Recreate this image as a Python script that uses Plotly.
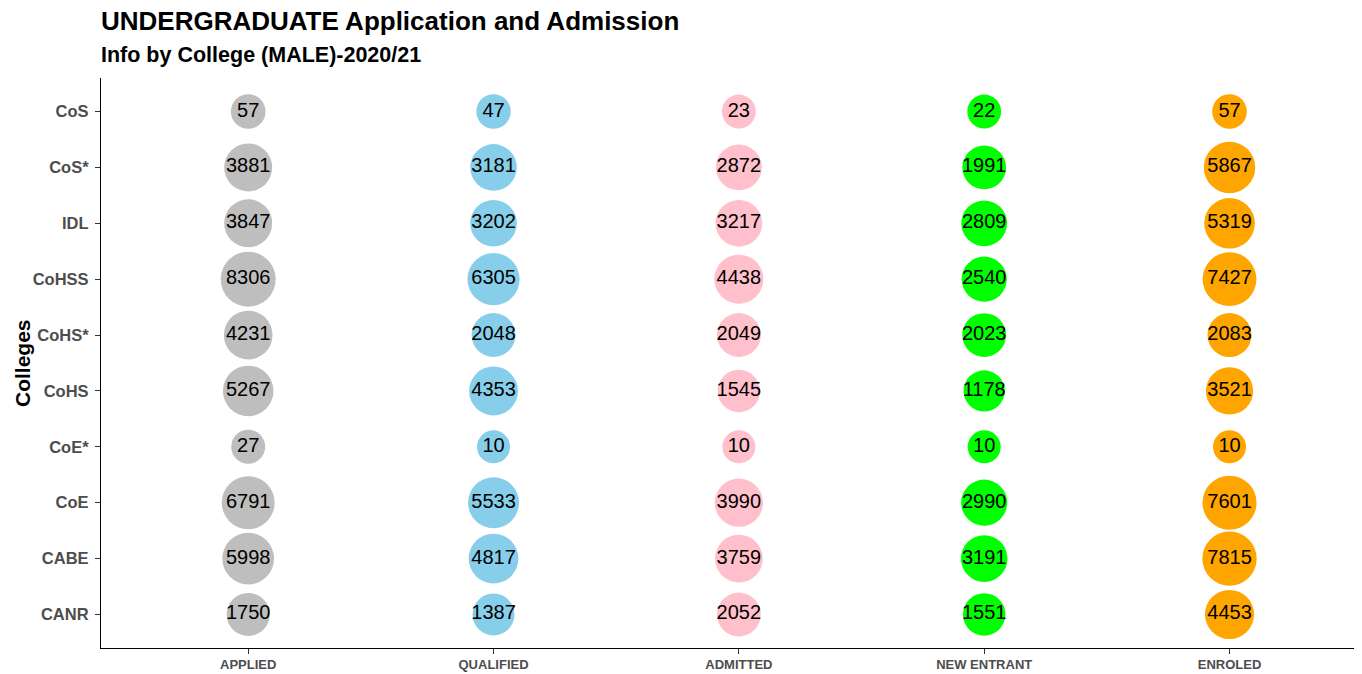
import numpy as np
import plotly.graph_objects as go

# ---- data ----
colleges = ["CANR", "CABE", "CoE", "CoE*", "CoHS", "CoHS*", "CoHSS", "IDL", "CoS*", "CoS"]
stages = ["APPLIED", "QUALIFIED", "ADMITTED", "NEW ENTRANT", "ENROLED"]

applied     = [1750, 5998, 6791, 27, 5267, 4231, 8306, 3847, 3881, 57]
qualified   = [1387, 4817, 5533, 10, 4353, 2048, 6305, 3202, 3181, 47]
admitted    = [2052, 3759, 3990, 10, 1545, 2049, 4438, 3217, 2872, 23]
new_entrant = [1551, 3191, 2990, 10, 1178, 2023, 2540, 2809, 1991, 22]
enroled     = [4453, 7815, 7601, 10, 3521, 2083, 7427, 5319, 5867, 57]

colors = ["#BEBEBE", "#87CEEB", "#FFC0CB", "#00FF00", "#FFA500"]

series = [applied, qualified, admitted, new_entrant, enroled]

# size scale (area-like, like ggplot scale_size)
allv = np.array(series, dtype=float)
vmin, vmax = allv.min(), allv.max()
dmin, dmax = 33.0, 55.0


def diam(vals):
    v = np.asarray(vals, dtype=float)
    return dmin + (dmax - dmin) * np.sqrt((v - vmin) / (vmax - vmin))


FONT = "Liberation Sans, Arial, sans-serif"

fig = go.Figure()
for stage, vals, col in zip(stages, series, colors):
    fig.add_trace(go.Scatter(
        x=[stage] * len(colleges),
        y=colleges,
        mode="markers+text",
        text=[str(v) for v in vals],
        textposition="middle center",
        textfont=dict(family=FONT, size=20, color="black"),
        marker=dict(size=diam(vals), color=col, line=dict(width=0), opacity=1),
        showlegend=False,
        hoverinfo="skip",
    ))

axis_common = dict(
    showline=True, linecolor="black", linewidth=1.2,
    ticks="outside", ticklen=5, tickwidth=1.2, tickcolor="#333333",
    showgrid=False, zeroline=False,
)

# page body has an 8px margin, so the figure is drawn 8px less than the window
fig.update_layout(
    width=1354, height=666,
    margin=dict(l=93, r=0, t=70, b=26),
    plot_bgcolor="white", paper_bgcolor="white",
    font=dict(family=FONT),
    xaxis=dict(
        **axis_common,
        type="category", categoryorder="array", categoryarray=stages,
        range=[-0.6, 4.54],
        tickfont=dict(size=13, color="#4D4D4D", family=FONT),
        tickprefix="<b>", ticksuffix="</b>",
        ticklabelstandoff=-1,
    ),
    yaxis=dict(
        **axis_common,
        type="category", categoryorder="array", categoryarray=colleges,
        range=[-0.6, 9.6],
        tickfont=dict(size=16.5, color="#4D4D4D", family=FONT),
        tickprefix="<b>", ticksuffix="</b>",
        ticklabelstandoff=3,
    ),
    annotations=[
        dict(text="<b>UNDERGRADUATE Application and Admission</b>",
             xref="paper", yref="paper", x=0, y=1, xanchor="left", yanchor="bottom",
             yshift=40, xshift=-2, showarrow=False,
             font=dict(size=26, color="black", family=FONT)),
        dict(text="<b>Info by College (MALE)-2020/21</b>",
             xref="paper", yref="paper", x=0, y=1, xanchor="left", yanchor="bottom",
             yshift=9, xshift=-2, showarrow=False,
             font=dict(size=21.5, color="black", family=FONT)),
        dict(text="<b>Colleges</b>", textangle=-90,
             xref="paper", yref="paper", x=0, y=0.5, xanchor="center", yanchor="middle",
             xshift=-79, showarrow=False,
             font=dict(size=21, color="black", family=FONT)),
    ],
)

fig.write_html("out.html")
